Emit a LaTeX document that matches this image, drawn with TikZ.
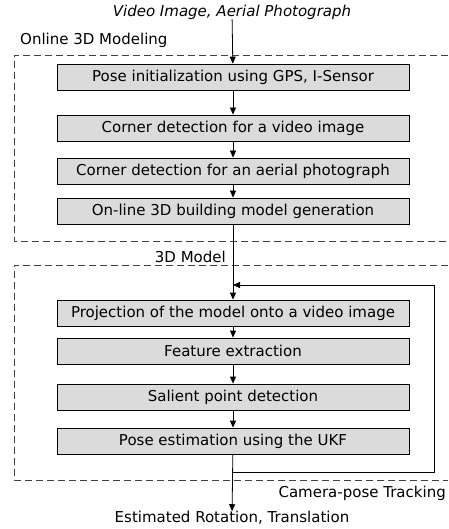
\documentclass[tikz,border=0pt]{standalone}
\usepackage{fontspec}
\setmainfont{DejaVu Sans}
\usetikzlibrary{arrows.meta}
\tikzset{
  stepbox/.style={draw=black, line width=0.8pt, fill=black!14, minimum width=352pt, minimum height=26pt, inner sep=0pt, font=\fontsize{15}{17}\selectfont},
  lbl/.style={inner sep=0pt, font=\fontsize{15}{17}\selectfont},
  arr/.style={line width=0.8pt, -{Triangle[length=7pt,width=6pt]}},
  frame/.style={line width=0.6pt, dash pattern=on 7pt off 4pt, draw=black!75},
}
\begin{document}
\begin{tikzpicture}[x=1pt,y=-1pt]
\useasboundingbox (0,0) rectangle (448,529);
\node[lbl, font=\fontsize{15}{17}\selectfont\itshape] (title) at (232,12) {Video Image, Aerial Photograph};
\node[lbl, anchor=west] (lab1) at (20,40) {Online 3D Modeling};
\draw[frame] (448,55) -- (14,55) -- (14,241) -- (448,241);
\node[stepbox] (b1) at (233,77) {Pose initialization using GPS, I-Sensor};
\node[stepbox] (b2) at (233,128) {Corner detection for a video image};
\node[stepbox] (b3) at (233,171) {Corner detection for an aerial photograph};
\node[stepbox] (b4) at (233,211) {On-line 3D building model generation};
\node[lbl, anchor=east] (lab2) at (226,257) {3D Model};
\draw[frame] (448,265) -- (14,265) -- (14,480) -- (448,480);
\node[stepbox] (b5) at (233,313) {Projection of the model onto a video image};
\node[stepbox] (b6) at (233,351) {Feature extraction};
\node[stepbox] (b7) at (233,397) {Salient point detection};
\node[stepbox] (b8) at (233,441) {Pose estimation using the UKF};
\node[lbl, anchor=east] (lab3) at (446,493) {Camera-pose Tracking};
\node[lbl] (out) at (232,518) {Estimated Rotation, Translation};
\coordinate (m) at (233,285);
\coordinate (c1) at (233,472);
\coordinate (c2) at (434,472);
\coordinate (c3) at (434,285);
\draw[arr] (title) -- (b1);
\draw[arr] (b1) -- (b2);
\draw[arr] (b2) -- (b3);
\draw[arr] (b3) -- (b4);
\draw[arr] (b4) -- (b5);
\draw[arr] (b5) -- (b6);
\draw[arr] (b6) -- (b7);
\draw[arr] (b7) -- (b8);
\draw[arr] (b8) -- (out);
\draw[arr] (c1) -- (c2) -- (c3) -- (m);
\end{tikzpicture}
\end{document}
